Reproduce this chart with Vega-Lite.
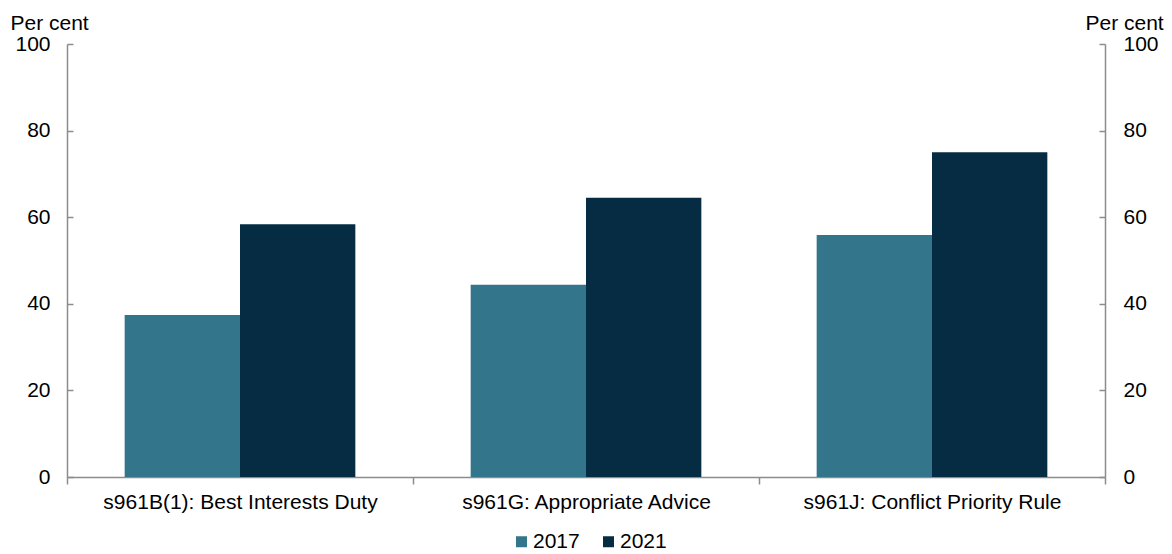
{
  "$schema": "https://vega.github.io/schema/vega-lite/v6.json",
  "width": 1038,
  "height": 433,
  "autosize": {"type": "none"},
  "padding": {"left": 67, "top": 44, "right": 67, "bottom": 77},
  "background": "white",
  "config": {
    "view": {"stroke": null},
    "font": "Liberation Sans",
    "axis": {"labelFont": "Liberation Sans", "titleFont": "Liberation Sans", "labelColor": "#000000", "titleColor": "#000000", "labelFontSize": 21, "titleFontSize": 21, "titleFontWeight": "normal", "domainColor": "#8c8c8c", "tickColor": "#8c8c8c", "domainWidth": 1.5, "tickWidth": 1.5, "grid": false, "labelLimit": 0}
  },
  "data": {
    "values": [
      {"rule": "s961B(1): Best Interests Duty", "year": "2017", "value": 37.4},
      {"rule": "s961B(1): Best Interests Duty", "year": "2021", "value": 58.4},
      {"rule": "s961G: Appropriate Advice", "year": "2017", "value": 44.4},
      {"rule": "s961G: Appropriate Advice", "year": "2021", "value": 64.5},
      {"rule": "s961J: Conflict Priority Rule", "year": "2017", "value": 55.9},
      {"rule": "s961J: Conflict Priority Rule", "year": "2021", "value": 75.0}
    ]
  },
  "layer": [
    {
      "mark": {"type": "bar"},
      "encoding": {
        "x": {"field": "rule", "type": "nominal", "sort": null,
              "scale": {"paddingInner": 0, "paddingOuter": 0},
              "axis": {"title": null, "labelAngle": 0, "tickBand": "extent", "tickSize": 7, "labelPadding": 7, "labelFontSize": 21}},
        "xOffset": {"field": "year", "type": "nominal", "scale": {"paddingInner": 0, "paddingOuter": 0.5}},
        "y": {"field": "value", "type": "quantitative",
              "scale": {"domain": [0, 100]},
              "axis": {"orient": "left", "values": [0, 20, 40, 60, 80, 100], "tickSize": -6, "labelPadding": 23, "labelFontSize": 21, "titleFontSize": 21,
                       "title": "Per cent", "titleAngle": 0, "titleAlign": "left", "titleBaseline": "alphabetic", "titleX": -57, "titleY": -15}},
        "color": {"field": "year", "type": "nominal",
                  "scale": {"domain": ["2017", "2021"], "range": ["#33758B", "#052C43"]},
                  "legend": {"title": null, "orient": "none", "legendX": 444, "legendY": 487, "direction": "horizontal", "symbolType": "square", "symbolSize": 121, "symbolStrokeWidth": 0, "labelFontSize": 21, "labelFont": "Liberation Sans", "labelColor": "#000000", "columnPadding": 18, "labelOffset": 1}}
      }
    },
    {
      "mark": {"type": "rule", "opacity": 0},
      "encoding": {
        "y": {"field": "value", "type": "quantitative",
              "scale": {"domain": [0, 100]},
              "axis": {"orient": "right", "values": [0, 20, 40, 60, 80, 100], "tickSize": -6, "labelPadding": 24, "labelFontSize": 21, "titleFontSize": 21,
                       "title": "Per cent", "titleAngle": 0, "titleAlign": "left", "titleBaseline": "alphabetic", "titleX": -20, "titleY": -15}}
      }
    }
  ],
  "resolve": {"scale": {"y": "independent"}}
}
